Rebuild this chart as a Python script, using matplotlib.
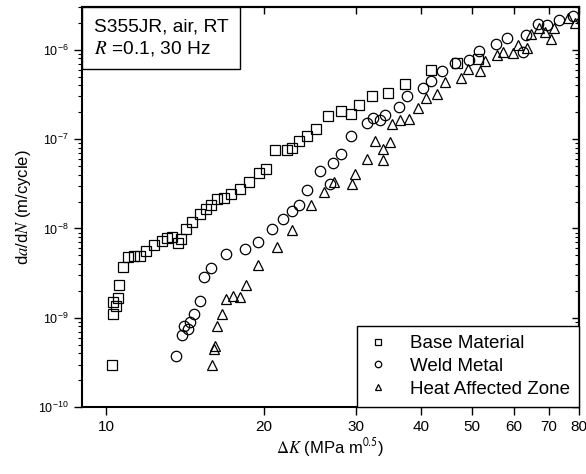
import matplotlib
matplotlib.use('Agg')
import matplotlib.pyplot as plt
from matplotlib.offsetbox import AnchoredText
from matplotlib.ticker import FixedLocator, NullLocator, LogFormatterSciNotation, NullFormatter

plt.rcParams['font.family'] = ['Liberation Sans', 'DejaVu Sans']
plt.rcParams['mathtext.fontset'] = 'stix'

# Base Material
dk_bm = [10.26, 10.29, 10.33, 10.44, 10.54, 10.61, 10.77, 11.01, 11.29, 11.59, 11.92, 12.35,
         12.81, 13.07, 13.39, 13.70, 13.91, 14.22, 14.60, 15.09, 15.52, 15.87, 16.29, 16.79,
         17.33, 18.01, 18.74, 19.57, 20.25, 21.04, 22.18, 22.67, 23.38, 24.22, 25.20, 26.57,
         28.13, 29.30, 30.40, 32.23, 34.59, 37.17, 41.81, 46.88, 51.21]
da_bm = [3.0e-10, 1.10e-9, 1.50e-9, 1.34e-9, 1.65e-9, 2.35e-9, 3.67e-9, 4.74e-9, 4.95e-9,
         4.95e-9, 5.64e-9, 6.58e-9, 7.16e-9, 7.80e-9, 8.07e-9, 6.86e-9, 7.59e-9, 9.82e-9,
         1.19e-8, 1.47e-8, 1.64e-8, 1.82e-8, 2.11e-8, 2.22e-8, 2.44e-8, 2.73e-8, 3.35e-8,
         4.15e-8, 4.65e-8, 7.57e-8, 7.57e-8, 7.98e-8, 9.62e-8, 1.09e-7, 1.30e-7, 1.83e-7,
         2.08e-7, 1.91e-7, 2.39e-7, 3.06e-7, 3.25e-7, 4.14e-7, 5.98e-7, 7.03e-7, 7.87e-7]

# Weld Metal
dk_wm = [13.58, 13.99, 14.11, 14.32, 14.49, 14.75, 15.12, 15.36, 15.87, 16.93, 18.40, 19.54,
         20.73, 21.73, 22.67, 23.36, 24.22, 25.57, 26.76, 27.07, 28.13, 29.39, 31.54, 32.37,
         33.34, 34.08, 36.21, 37.62, 40.30, 41.69, 43.82, 46.33, 49.43, 51.56, 55.56, 58.42,
         62.67, 63.51, 66.83, 69.66, 73.32, 77.79]
da_wm = [3.72e-10, 6.37e-10, 8.09e-10, 7.50e-10, 9.08e-10, 1.10e-9, 1.56e-9, 2.86e-9, 3.57e-9,
         5.21e-9, 5.87e-9, 7.10e-9, 9.75e-9, 1.29e-8, 1.56e-8, 1.85e-8, 2.70e-8, 4.43e-8,
         3.11e-8, 5.37e-8, 6.84e-8, 1.09e-7, 1.50e-7, 1.73e-7, 1.65e-7, 1.86e-7, 2.31e-7,
         3.06e-7, 3.73e-7, 4.51e-7, 5.73e-7, 7.10e-7, 7.67e-7, 9.57e-7, 1.16e-6, 1.34e-6,
         9.51e-7, 1.46e-6, 1.94e-6, 1.90e-6, 2.15e-6, 2.36e-6]

# Heat Affected Zone
dk_haz = [15.91, 16.05, 16.17, 16.29, 16.63, 16.97, 17.51, 18.00, 18.51, 19.48, 21.22, 22.63,
          24.65, 26.03, 27.23, 29.43, 29.91, 31.55, 33.79, 33.86, 32.56, 34.80, 35.10, 36.36,
          37.88, 39.41, 40.90, 42.94, 44.35, 47.57, 49.20, 51.72, 52.81, 55.91, 57.31, 59.82,
          61.07, 63.79, 64.72, 67.14, 68.93, 70.68, 71.71, 76.10, 78.58]
da_haz = [2.94e-10, 4.53e-10, 4.84e-10, 8.09e-10, 1.09e-9, 1.61e-9, 1.77e-9, 1.71e-9, 2.32e-9,
          3.86e-9, 6.25e-9, 9.61e-9, 1.83e-8, 2.56e-8, 3.31e-8, 3.14e-8, 4.09e-8, 6.05e-8,
          5.90e-8, 7.78e-8, 9.42e-8, 9.20e-8, 1.48e-7, 1.64e-7, 1.66e-7, 2.23e-7, 2.88e-7,
          3.17e-7, 4.38e-7, 4.83e-7, 6.08e-7, 5.73e-7, 7.53e-7, 8.73e-7, 9.51e-7, 9.10e-7,
          1.13e-6, 1.04e-6, 1.50e-6, 1.77e-6, 1.56e-6, 1.32e-6, 1.77e-6, 2.26e-6, 1.99e-6]

xticks = [10, 20, 30, 40, 50, 60, 70, 80]
yticks = [1e-10, 1e-9, 1e-8, 1e-7, 1e-6]
yminor = [m * 10.0 ** e for e in range(-10, -5) for m in range(2, 10) if m * 10.0 ** e <= 3e-6]

fig = plt.figure(figsize=(5.86, 4.74), dpi=100)
ax = fig.add_axes([0.14, 0.141, 0.848, 0.844])

mk = dict(linestyle='none', markerfacecolor='none', markeredgecolor='black',
          markeredgewidth=0.9, markersize=7.5)
ax.plot(dk_bm, da_bm, marker='s', label='Base Material', **mk)
ax.plot(dk_wm, da_wm, marker='o', label='Weld Metal', **mk)
ax.plot(dk_haz, da_haz, marker='^', label='Heat Affected Zone', **mk)

ax.set_xscale('log')
ax.set_yscale('log')
ax.set_xlim(9, 80)
ax.set_ylim(1e-10, 3e-6)
ax.xaxis.set_major_locator(FixedLocator(xticks))
ax.xaxis.set_minor_locator(NullLocator())
ax.set_xticklabels([str(t) for t in xticks])
ax.yaxis.set_major_locator(FixedLocator(yticks))
ax.yaxis.set_major_formatter(LogFormatterSciNotation())
ax.yaxis.set_minor_locator(FixedLocator(yminor))
ax.yaxis.set_minor_formatter(NullFormatter())
ax.tick_params(axis='x', which='major', labelsize=11, direction='out', length=6, width=1, pad=3)
ax.tick_params(axis='y', which='major', labelsize=9, direction='out', length=6, width=1)
ax.tick_params(axis='y', which='minor', direction='out', length=3, width=0.8)
for s in ax.spines.values():
    s.set_linewidth(1.5)

# inward ticks on top and right
axt = ax.secondary_xaxis('top')
axt.xaxis.set_major_locator(FixedLocator(xticks))
axt.xaxis.set_minor_locator(NullLocator())
axt.tick_params(axis='x', direction='in', length=5, width=1, labeltop=False)
axr = ax.secondary_yaxis('right')
axr.yaxis.set_major_locator(FixedLocator(yticks))
axr.yaxis.set_minor_locator(FixedLocator(yminor))
axr.tick_params(axis='y', which='major', direction='in', length=5, width=1, labelright=False)
axr.tick_params(axis='y', which='minor', direction='in', length=3, width=0.8, labelright=False)
for a in (axt, axr):
    for s in a.spines.values():
        s.set_linewidth(1.5)

ax.set_xlabel(r'$\Delta K$ (MPa m$^{\mathsf{0.5}}$)', fontsize=12, labelpad=2)
ax.set_ylabel(r'd$a$/d$N$ (m/cycle)', fontsize=12, labelpad=4)

leg = ax.legend(loc='lower right', fontsize=13.5, markerscale=0.62, fancybox=False,
                edgecolor='black', framealpha=1, borderaxespad=0, handletextpad=1.1,
                labelspacing=0.3, borderpad=0.5, handlelength=1.2)
leg.get_frame().set_linewidth(1.0)
leg.set_zorder(5)

at = AnchoredText('S355JR, air, RT\n$R$ =0.1, 30 Hz', loc='upper left', borderpad=0,
                  pad=0.6, prop=dict(size=13.8), frameon=True)
at.patch.set_boxstyle('square,pad=0')
at.patch.set_linewidth(1.0)
ax.add_artist(at)

fig.savefig('out.png', dpi=100)
